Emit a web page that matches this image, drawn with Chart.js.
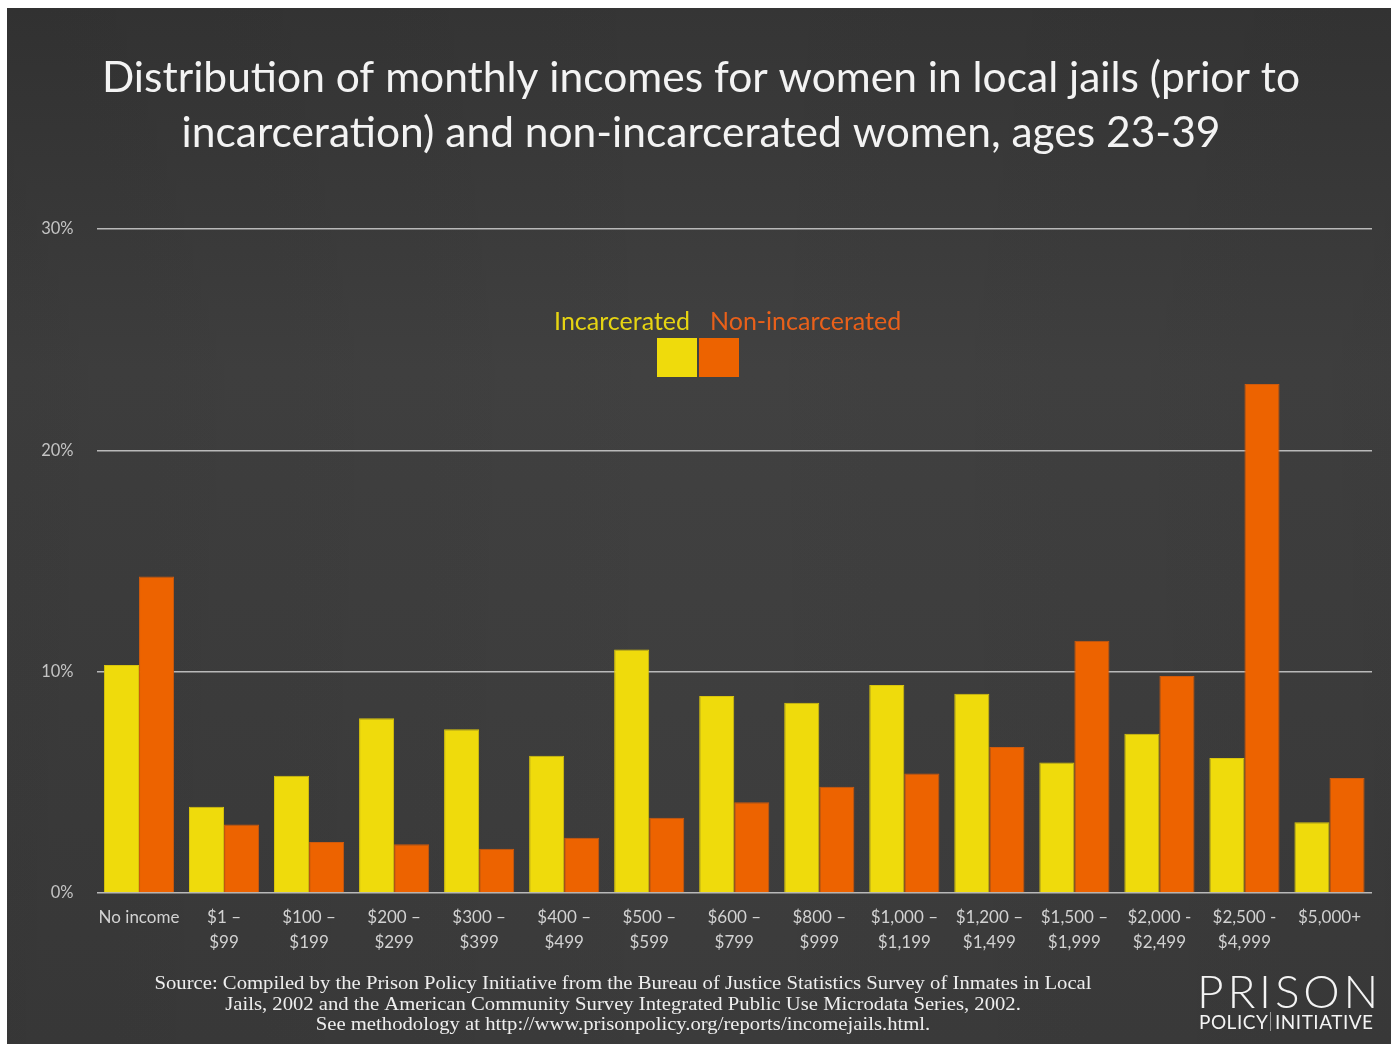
<!DOCTYPE html>
<html>
<head>
<meta charset="utf-8">
<script src="https://cdn.jsdelivr.net/npm/chart.js@4.4.1/dist/chart.umd.min.js"></script>
<style>
  html, body { margin: 0; padding: 0; background: #ffffff; }
  #wrap { position: absolute; left: 0; top: 0; width: 1396px; height: 1044px; }
</style>
</head>
<body>
<div id="wrap"><canvas id="chart"></canvas></div>
<script>
// Monthly income brackets
const categories = [
  'No income',
  ['$1 –', '$99'],
  ['$100 –', '$199'],
  ['$200 –', '$299'],
  ['$300 –', '$399'],
  ['$400 –', '$499'],
  ['$500 –', '$599'],
  ['$600 –', '$799'],
  ['$800 –', '$999'],
  ['$1,000 –', '$1,199'],
  ['$1,200 –', '$1,499'],
  ['$1,500 –', '$1,999'],
  ['$2,000 -', '$2,499'],
  ['$2,500 -', '$4,999'],
  '$5,000+'
];

// Share of women (%) in each bracket
const incarcerated    = [10.3, 3.9, 5.3, 7.9, 7.4, 6.2, 11.0, 8.9, 8.6, 9.4, 9.0, 5.9, 7.2, 6.1, 3.2];
const nonIncarcerated = [14.3, 3.1, 2.3, 2.2, 2.0, 2.5, 3.4, 4.1, 4.8, 5.4, 6.6, 11.4, 9.8, 23.0, 5.2];

const seriesNames = ['Incarcerated', 'Non-incarcerated'];

const yTicks = [0, 10, 20, 30];

const titleLines = [
  'Distribution of monthly incomes for women in local jails (prior to',
  'incarceration) and non-incarcerated women, ages 23-39'
];

const sourceLines = [
  'Source: Compiled by the Prison Policy Initiative from the Bureau of Justice Statistics Survey of Inmates in Local',
  'Jails, 2002 and the American Community Survey Integrated Public Use Microdata Series, 2002.',
  'See methodology at http://www.prisonpolicy.org/reports/incomejails.html.'
];

const logoTop = 'PRISON';
const logoBottom = ['POLICY', 'INITIATIVE'];

const YELLOW = '#efdb0c';
const ORANGE = '#ed6300';
const SANS = 'Lato, "Open Sans", sans-serif';

// Background panel, title, legend, source note and logo
const decorations = {
  id: 'decorations',
  beforeDraw(chart) {
    const ctx = chart.ctx;
    ctx.save();
    const g = ctx.createLinearGradient(0, 8, 0, 1044);
    g.addColorStop(0, '#353535');
    g.addColorStop(0.35, '#414141');
    g.addColorStop(1, '#3b3b3b');
    ctx.fillStyle = g;
    ctx.fillRect(7, 8, 1384, 1036);
    const h = ctx.createLinearGradient(7, 0, 1391, 0);
    h.addColorStop(0, 'rgba(0,0,0,0.08)');
    h.addColorStop(0.5, 'rgba(0,0,0,0)');
    h.addColorStop(1, 'rgba(0,0,0,0.06)');
    ctx.fillStyle = h;
    ctx.fillRect(7, 8, 1384, 1036);
    ctx.restore();
  },
  afterDraw(chart) {
    const ctx = chart.ctx;
    ctx.save();

    // Title
    ctx.fillStyle = '#f3f3f3';
    ctx.textAlign = 'center';
    ctx.textBaseline = 'alphabetic';
    ctx.font = '400 42.5px ' + SANS;
    titleLines.forEach((t, i) => ctx.fillText(t, 701, 92 + i * 55));

    // Legend
    const ds = chart.data.datasets;
    ctx.font = '400 25px ' + SANS;
    ctx.textAlign = 'right';
    ctx.fillStyle = '#e6d412';
    ctx.fillText(ds[0].label, 690, 330);
    ctx.textAlign = 'left';
    ctx.fillStyle = '#e9601a';
    ctx.fillText(ds[1].label, 710, 330);
    ctx.fillStyle = ds[0].backgroundColor;
    ctx.fillRect(657, 338, 40, 39);
    ctx.fillStyle = ds[1].backgroundColor;
    ctx.fillRect(699, 338, 40, 39);

    // Source note, stretched slightly to the width of the printed note
    ctx.fillStyle = '#eeeeee';
    ctx.textAlign = 'center';
    ctx.font = '19.5px "Liberation Serif", "DejaVu Serif", serif';
    const sx = 937 / ctx.measureText(sourceLines[0]).width;
    sourceLines.forEach((t, i) => {
      ctx.save();
      ctx.translate(623, 989 + i * 20.5);
      ctx.scale(sx, 1);
      ctx.fillText(t, 0, 0);
      ctx.restore();
    });

    // Logo
    ctx.fillStyle = '#f4f4f4';
    ctx.textAlign = 'left';
    ctx.font = '300 46px ' + SANS;
    ctx.letterSpacing = '3.8px';
    ctx.fillText(logoTop, 1197, 1008);
    ctx.font = '400 19px ' + SANS;
    ctx.letterSpacing = '0.5px';
    ctx.fillText(logoBottom[0], 1199, 1029);
    ctx.fillText(logoBottom[1], 1275, 1029);
    ctx.letterSpacing = '0px';
    ctx.strokeStyle = 'rgba(230,230,230,0.55)';
    ctx.lineWidth = 1;
    ctx.beginPath();
    ctx.moveTo(1270.5, 1012);
    ctx.lineTo(1270.5, 1031);
    ctx.stroke();
    ctx.restore();
  }
};

const chart = new Chart(document.getElementById('chart'), {
  type: 'bar',
  data: {
    labels: categories,
    datasets: [
      {
        label: seriesNames[0],
        data: incarcerated,
        backgroundColor: YELLOW,
        borderColor: '#d8c40d',
        borderWidth: 1
      },
      {
        label: seriesNames[1],
        data: nonIncarcerated,
        backgroundColor: ORANGE,
        borderColor: '#cf5a0c',
        borderWidth: 1
      }
    ]
  },
  options: {
    responsive: true,
    maintainAspectRatio: false,
    animation: false,
    events: [],
    layout: { padding: { left: 0, right: 24, top: 229, bottom: 0 } },
    datasets: {
      bar: { categoryPercentage: 0.825, barPercentage: 1.0 }
    },
    plugins: {
      legend: { display: false },
      title: { display: false },
      tooltip: { enabled: false }
    },
    scales: {
      x: {
        grid: { display: false, drawTicks: false },
        border: { display: false },
        ticks: {
          color: '#d2d2d2',
          font: { family: SANS, size: 17, lineHeight: 1.47 },
          padding: 12,
          maxRotation: 0,
          autoSkip: false
        },
        afterFit(scale) { scale.height = 151; }
      },
      y: {
        min: 0,
        max: 30,
        afterBuildTicks(scale) { scale.ticks = yTicks.map(v => ({ value: v })); },
        grid: { color: '#b9b9b9', lineWidth: 1.5, drawTicks: false },
        border: { display: false },
        ticks: {
          color: '#c4c4c4',
          font: { family: SANS, size: 16.5 },
          padding: 23,
          callback: v => v + '%'
        },
        afterFit(scale) { scale.width = 96.5; }
      }
    }
  },
  plugins: [decorations]
});
</script>
</body>
</html>
